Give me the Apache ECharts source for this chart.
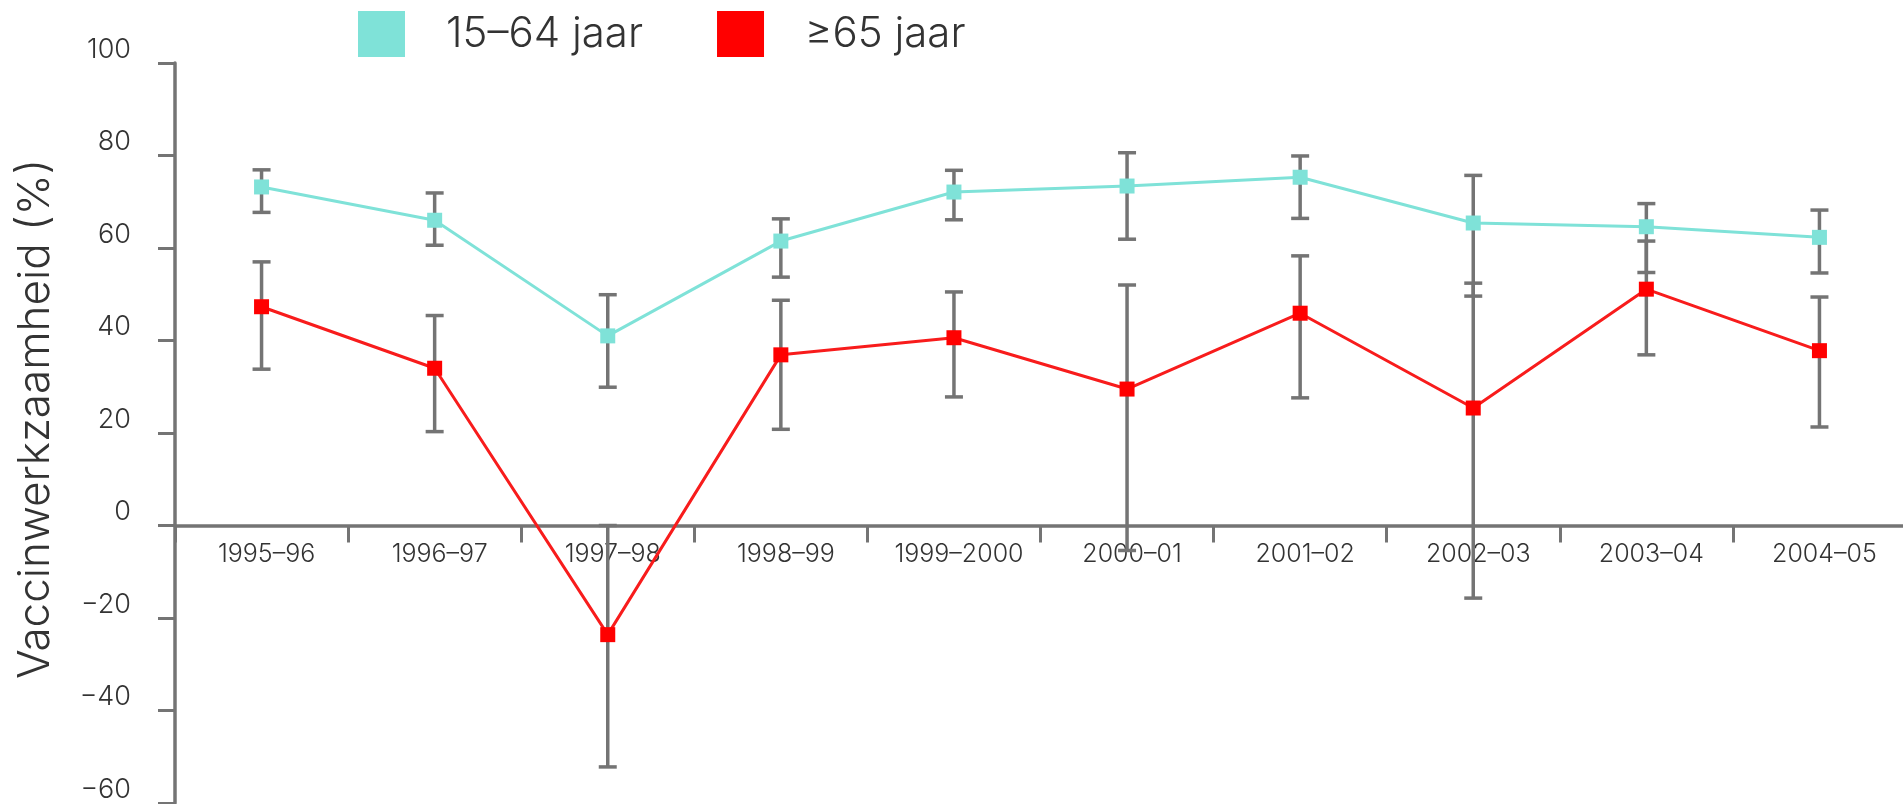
<!DOCTYPE html>
<html>
<head>
<meta charset="utf-8">
<script src="https://cdn.jsdelivr.net/npm/echarts@6/dist/echarts.min.js"></script>
<style>
  html, body { margin: 0; padding: 0; background: #fff; }
  #chart { width: 1903px; height: 804px; }
</style>
</head>
<body>
<div id="chart"></div>
<script>
const categories = ['1995–96', '1996–97', '1997–98', '1998–99', '1999–2000', '2000–01', '2001–02', '2002–03', '2003–04', '2004–05']
const yTicks = [-60, -40, -20, 0, 20, 40, 60, 80, 100]

// 15–64 jaar
const youngVE = [73.2, 66.0, 41.0, 61.5, 72.1, 73.4, 75.3, 65.4, 64.6, 62.3]
const youngLow = [67.7, 60.6, 29.9, 53.7, 66.1, 61.9, 66.4, 49.6, 54.7, 54.6]
const youngHigh = [76.9, 71.9, 49.9, 66.3, 76.8, 80.6, 79.9, 75.7, 69.6, 68.2]

// ≥65 jaar
const oldVE = [47.3, 34.0, -23.6, 36.9, 40.6, 29.5, 45.9, 25.4, 51.1, 37.8]
const oldLow = [33.8, 20.3, -52.2, 20.8, 27.8, -5.4, 27.6, -15.7, 36.9, 21.3]
const oldHigh = [57.0, 45.4, 0, 48.7, 50.5, 52.0, 58.3, 52.4, 61.5, 49.4]

const font = 'Inter, Lato, sans-serif'
const grey = '#747474'

// plot area
const gridTop = 63
const gridBottom = 1
const gridHeight = 804 - gridTop - gridBottom
const yMin = yTicks[0]
const yMax = yTicks[yTicks.length - 1]
// pull the category axis up from the bottom of the grid to the zero line
const zeroOffset = -gridHeight * (0 - yMin) / (yMax - yMin)

const myChart = echarts.init(document.getElementById('chart'))

// error bar: vertical line with a cap on each end
const errorBar = (params, api) => {
  const i = api.value(0)
  const lo = api.coord([i, api.value(1)])
  const hi = api.coord([i, api.value(2)])
  const w = 9
  const style = { stroke: grey, lineWidth: 3.5 }
  return {
    type: 'group',
    children: [
      { type: 'line', shape: { x1: lo[0], y1: lo[1], x2: hi[0], y2: hi[1] }, style },
      { type: 'line', shape: { x1: lo[0] - w, y1: lo[1], x2: lo[0] + w, y2: lo[1] }, style },
      { type: 'line', shape: { x1: hi[0] - w, y1: hi[1], x2: hi[0] + w, y2: hi[1] }, style }
    ]
  }
}

const option = {
  animation: false,
  textStyle: { fontFamily: font },
  legend: {
    data: ['15–64 jaar', '≥65 jaar'],
    left: 353,
    top: 6,
    icon: 'rect',
    itemWidth: 47,
    itemHeight: 46,
    itemGap: 74,
    textStyle: {
      fontFamily: font,
      fontWeight: 300,
      fontSize: 42,
      color: '#333',
      padding: [0, 0, 0, 36]
    }
  },
  grid: { left: 175, right: -3, top: gridTop, bottom: gridBottom, outerBoundsMode: 'none' },
  xAxis: {
    type: 'category',
    data: categories,
    boundaryGap: true,
    position: 'bottom',
    offset: zeroOffset,
    axisLine: { onZero: false, lineStyle: { color: grey, width: 3.5 } },
    axisTick: { show: true, length: 17, interval: 0, lineStyle: { color: grey, width: 3 } },
    axisLabel: {
      interval: 0,
      margin: 16,
      fontSize: 25,
      fontWeight: 300,
      color: '#333',
      padding: [0, 0, 0, 10]
    },
    splitLine: { show: false }
  },
  yAxis: {
    type: 'value',
    min: yMin,
    max: yMax,
    interval: 20,
    name: 'Vaccinwerkzaamheid (%)',
    nameLocation: 'middle',
    nameRotate: 90,
    nameGap: 117,
    nameTextStyle: { fontSize: 44, fontWeight: 300, color: '#333', padding: [0, 0, 0, 28] },
    axisLine: { show: true, lineStyle: { color: grey, width: 3.5 } },
    axisTick: { show: true, length: 17, lineStyle: { color: grey, width: 3 } },
    axisLabel: {
      margin: 44,
      fontSize: 27,
      fontWeight: 300,
      color: '#333',
      verticalAlign: 'bottom',
      formatter: v => String(v).replace('-', '−')
    },
    splitLine: { show: false }
  },
  series: [
    {
      name: 'fout 15–64',
      type: 'custom',
      z: 2,
      renderItem: errorBar,
      encode: { x: 0, y: [1, 2] },
      data: categories.map((c, i) => [i, youngLow[i], youngHigh[i]])
    },
    {
      name: 'fout ≥65',
      type: 'custom',
      z: 2,
      renderItem: errorBar,
      encode: { x: 0, y: [1, 2] },
      data: categories.map((c, i) => [i, oldLow[i], oldHigh[i]])
    },
    {
      name: '15–64 jaar',
      type: 'line',
      z: 3,
      data: youngVE,
      symbol: 'rect',
      symbolSize: 15,
      showAllSymbol: true,
      itemStyle: { color: '#7fe2d8' },
      lineStyle: { color: '#7fe2d8', width: 3 }
    },
    {
      name: '≥65 jaar',
      type: 'line',
      z: 3,
      data: oldVE,
      symbol: 'rect',
      symbolSize: 15,
      showAllSymbol: true,
      itemStyle: { color: '#ff0000' },
      lineStyle: { color: '#f81c1c', width: 3 }
    }
  ]
}
option && myChart.setOption(option)
</script>
</body>
</html>
